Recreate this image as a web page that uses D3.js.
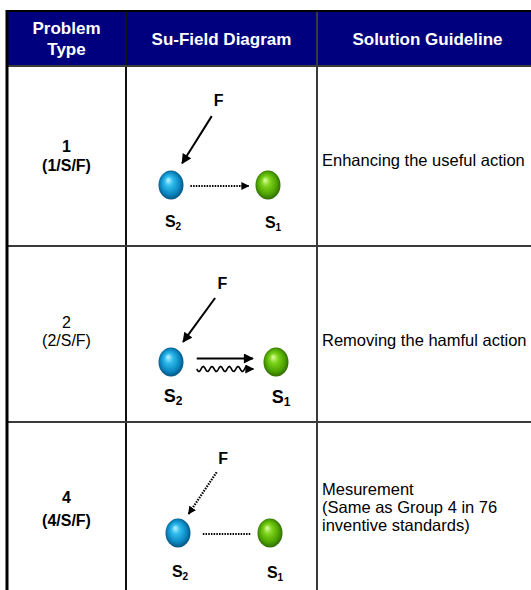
<!DOCTYPE html>
<meta charset="utf-8">
<head>
  <style>
    body { margin: 0; background: #fff; }
    .head { fill: #fff; font-family: "Liberation Sans", Arial, sans-serif; font-weight: bold; font-size: 17px; text-anchor: middle; }
    .num { fill: #000; font-family: "Liberation Sans", Arial, sans-serif; font-size: 16px; text-anchor: middle; }
    .guide { fill: #000; font-family: "Liberation Sans", Arial, sans-serif; font-size: 16.5px; }
    .lab { fill: #000; font-family: "Liberation Sans", Arial, sans-serif; font-weight: bold; text-anchor: middle; }
  </style>
  <title></title>
</head>
<body>

<script src="https://d3js.org/d3.v7.min.js"></script>

<div id="my_table"></div>

<script>

// table content
var headers = [["Problem", "Type"], ["Su-Field Diagram"], ["Solution Guideline"]];
var problemNumbers = ["1", "2", "4"];
var problemCodes = ["(1/S/F)", "(2/S/F)", "(4/S/F)"];
var numberWeights = ["bold", "normal", "bold"];
var guidelines = [
  ["Enhancing the useful action"],
  ["Removing the hamful action"],
  ["Mesurement", "(Same as Group 4 in 76", "inventive standards)"]
];
// kind of field action F -> S2, and of interaction S2 -> S1
var fieldActions = ["solid", "solid", "dotted"];
var substanceLinks = ["dotted-arrow", "useful-harmful", "dotted-line"];
var substances = [{name: "S", sub: "2", colour: "blue"}, {name: "S", sub: "1", colour: "green"}];

var W = 531, H = 590;

var svg = d3.select("#my_table")
  .append("svg")
    .attr("width", W)
    .attr("height", H);

// column and row edges
var colEdge = d3.scaleOrdinal().domain([0, 1, 2, 3]).range([7, 126, 317, 538]);
var rowEdge = d3.scaleOrdinal().domain([0, 1, 2, 3, 4]).range([11, 66, 246, 422, 620]);

// per row placement of the diagram inside its cell (offsets from the row top)
var cellLayout = [
  {s2: 171, s1: 268, fy: 34, ball: 119, n1: 86, n2: 105, lab: 42},
  {s2: 171, s1: 276, fy: 37, ball: 116, n1: 82, n2: 100, lab: 40},
  {s2: 178, s1: 270, fy: 36, ball: 111, n1: 81, n2: 104, lab: 44}
];

// gradients for the balls and arrow markers
var defs = svg.append("defs");
var ballColours = {
  blue: ["#c0f4ff", "#30bdee", "#0a86c0", "#04466e"],
  green: ["#e2ffa8", "#7fd41c", "#4da300", "#285a00"]
};
Object.keys(ballColours).forEach(function(k) {
  var g = defs.append("radialGradient")
    .attr("id", "ball-" + k)
    .attr("cx", "50%").attr("cy", "50%").attr("r", "55%")
    .attr("fx", "38%").attr("fy", "32%");
  [0, 0.3, 0.7, 1].forEach(function(o, i) {
    g.append("stop").attr("offset", o).attr("stop-color", ballColours[k][i]);
  });
});

function marker(id, w, h, orient) {
  defs.append("marker")
    .attr("id", id)
    .attr("viewBox", "0 0 10 10")
    .attr("refX", 9).attr("refY", 5)
    .attr("markerUnits", "userSpaceOnUse")
    .attr("markerWidth", w).attr("markerHeight", h)
    .attr("orient", orient)
    .append("path")
      .attr("d", "M0,0 L10,5 L0,10 z")
      .attr("fill", "#000");
}
marker("arrow", 11, 10, "auto");
marker("arrow-small", 8, 8, "auto");
marker("arrow-right", 10, 9, 0);

// header band
svg.append("rect")
  .attr("x", colEdge(0))
  .attr("y", rowEdge(0))
  .attr("width", colEdge(3) - colEdge(0))
  .attr("height", rowEdge(1) - rowEdge(0))
  .attr("fill", "#00007f");

headers.forEach(function(lines, c) {
  var cx = (colEdge(c) + colEdge(c + 1)) / 2;
  var midY = (rowEdge(0) + rowEdge(1)) / 2;
  var lh = 21;
  lines.forEach(function(t, i) {
    svg.append("text")
      .attr("class", "head")
      .attr("x", cx)
      .attr("y", midY + 6 + (i - (lines.length - 1) / 2) * lh)
      .text(t);
  });
});

// grid lines
var grid = svg.append("g").attr("stroke", "#3a3a3a").attr("stroke-width", 2);
[1, 2].forEach(function(c) {
  grid.append("line")
    .attr("x1", colEdge(c)).attr("x2", colEdge(c))
    .attr("y1", rowEdge(0)).attr("y2", H)
    .attr("stroke", c === 1 ? "#111" : "#3a3a3a");
});
[1, 2, 3].forEach(function(r) {
  grid.append("line")
    .attr("x1", colEdge(0)).attr("x2", W)
    .attr("y1", rowEdge(r)).attr("y2", rowEdge(r));
});
// outer border
svg.append("line")
  .attr("x1", colEdge(0)).attr("x2", colEdge(0))
  .attr("y1", rowEdge(0) - 1).attr("y2", H)
  .attr("stroke", "#000").attr("stroke-width", 3);
svg.append("line")
  .attr("x1", colEdge(0)).attr("x2", W)
  .attr("y1", rowEdge(0)).attr("y2", rowEdge(0))
  .attr("stroke", "#000").attr("stroke-width", 2);

// rows
problemNumbers.forEach(function(num, r) {
  var top = rowEdge(r + 1);
  var L = cellLayout[r];
  var cx0 = (colEdge(0) + colEdge(1)) / 2;

  svg.append("text").attr("class", "num")
    .attr("x", cx0).attr("y", top + L.n1)
    .style("font-weight", numberWeights[r])
    .text(num);
  svg.append("text").attr("class", "num")
    .attr("x", cx0).attr("y", top + L.n2)
    .style("font-weight", numberWeights[r])
    .text(problemCodes[r]);

  guidelines[r].forEach(function(t, i) {
    svg.append("text").attr("class", "guide")
      .attr("x", colEdge(2) + 5)
      .attr("y", top + (guidelines[r].length > 1 ? 73 : 100) + i * 18)
      .text(t);
  });

  // diagram scales: 0 = S2, 1 = S1 horizontally; 0 = F, 1 = balls vertically
  var x = d3.scaleLinear().domain([0, 1]).range([colEdge(1) + L.s2 - 126, colEdge(1) + L.s1 - 126]);
  var y = d3.scaleLinear().domain([0, 1]).range([top + L.fy, top + L.ball]);
  var g = svg.append("g");

  // field label and its action on S2
  g.append("text").attr("class", "lab")
    .attr("x", x(0.49)).attr("y", y(0) + 6)
    .style("font-size", "16px")
    .text("F");
  g.append("line")
    .attr("x1", x(0.42)).attr("y1", y(0.19))
    .attr("x2", x(0.115)).attr("y2", y(0.745))
    .attr("stroke", "#000")
    .attr("stroke-width", fieldActions[r] === "solid" ? 2 : 2.2)
    .attr("stroke-dasharray", fieldActions[r] === "solid" ? null : "1.5,1.2")
    .attr("marker-end", fieldActions[r] === "solid" ? "url(#arrow)" : "url(#arrow-small)");

  // interaction between the substances
  var ly = y(1);
  var link = substanceLinks[r];
  if (link === "dotted-arrow") {
    g.append("line")
      .attr("x1", x(0.2)).attr("y1", ly + 1)
      .attr("x2", x(0.8)).attr("y2", ly + 1)
      .attr("stroke", "#000").attr("stroke-width", 2)
      .attr("stroke-dasharray", "1.5,1.2")
      .attr("marker-end", "url(#arrow-small)");
  } else if (link === "useful-harmful") {
    g.append("line")
      .attr("x1", x(0.245)).attr("y1", ly - 3.5)
      .attr("x2", x(0.78)).attr("y2", ly - 3.5)
      .attr("stroke", "#000").attr("stroke-width", 2)
      .attr("marker-end", "url(#arrow)");
    // harmful action drawn as a wavy arrow
    var x0 = x(0.245), x1 = x(0.785);
    var steps = d3.range(0, 1.0001, 0.02);
    var wave = d3.line()
      .x(function(t) { return x0 + t * (x1 - x0); })
      .y(function(t) { return ly + 7 + (t < 0.92 ? 2.6 * Math.sin(t / 0.92 * Math.PI * 2 * 6) : 0); });
    g.append("path")
      .attr("d", wave(steps))
      .attr("fill", "none")
      .attr("stroke", "#000").attr("stroke-width", 1.6)
      .attr("marker-end", "url(#arrow-right)");
  } else {
    g.append("line")
      .attr("x1", x(0.27)).attr("y1", ly + 1)
      .attr("x2", x(0.79)).attr("y2", ly + 1)
      .attr("stroke", "#000").attr("stroke-width", 2)
      .attr("stroke-dasharray", "1.5,1.2");
  }

  // substances
  substances.forEach(function(s, i) {
    g.append("ellipse")
      .attr("cx", x(i)).attr("cy", ly)
      .attr("rx", 12.5).attr("ry", 14.5)
      .attr("fill", "url(#ball-" + s.colour + ")");
    var t = g.append("text").attr("class", "lab")
      .attr("x", x(i) + 2 + i * 3).attr("y", ly + L.lab + (i === 1 ? 1 : 0))
      .style("font-size", r === 1 ? "18px" : "16px");
    t.append("tspan").text(s.name);
    t.append("tspan")
      .attr("dy", 3)
      .style("font-size", r === 1 ? "12px" : "10px")
      .text(s.sub);
  });
});

</script>

</body>
